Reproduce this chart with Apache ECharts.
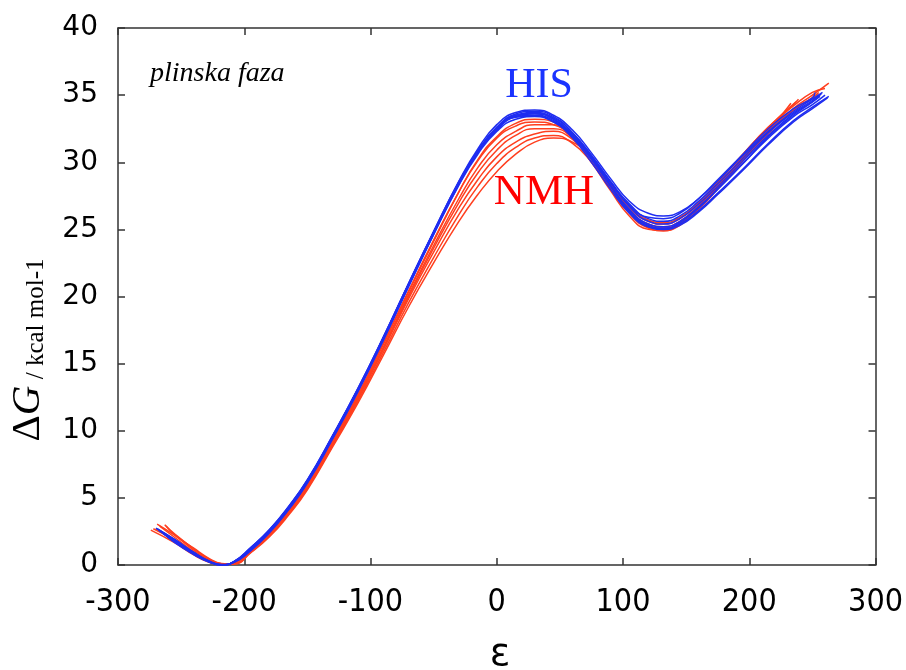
<!DOCTYPE html>
<html>
<head>
<meta charset="utf-8">
<script src="https://cdn.jsdelivr.net/npm/echarts@6/dist/echarts.min.js"></script>
<style>
  html, body { margin: 0; padding: 0; background: #fff; }
  #chart { width: 906px; height: 670px; }
</style>
</head>
<body>
<div id="chart"></div>
<script>
"use strict";
// shared epsilon grid (interior points); each curve adds its own start / end point
const gridEps = [-255, -240, -228, -218, -208, -195, -180, -165, -150, -130, -110, -90, -70, -50, -30, -15,
  0, 15, 30, 45, 60, 75, 90, 105, 120, 132, 145, 160, 175, 195, 215, 235, 250];

const xTicks = [-300, -200, -100, 0, 100, 200, 300];
const yTicks = [0, 5, 10, 15, 20, 25, 30, 35, 40];

// HIS (blue)
const hisStartEps = [-266, -270, -268, -267, -265, -269, -266, -264];
const hisStartG = [2.5, 2.75, 2.6, 2.55, 2.4, 2.7, 2.5, 2.35];
const hisEndEps = [258, 263, 256, 260, 255, 262, 257, 252];
const hisEndG = [35.2, 34.9, 34.9, 35.0, 35.0, 34.8, 35.1, 35.2];
const his1 = [1.75, 0.85, 0.25, 0.0, 0.27, 1.3, 2.65, 4.35, 6.35, 9.65, 13.15, 16.95, 20.95, 24.85, 28.6, 31.0, 32.8, 33.7, 33.9, 33.5, 32.4, 30.7, 28.8, 27.1, 26.2, 26.0, 26.3, 27.3, 28.6, 30.5, 32.3, 33.8, 34.7];
const his2 = [1.9, 0.95, 0.3, 0.0, 0.22, 1.15, 2.5, 4.2, 6.2, 9.5, 13.0, 16.8, 20.8, 24.7, 28.4, 30.8, 32.6, 33.6, 33.8, 33.4, 32.2, 30.4, 28.3, 26.4, 25.3, 25.1, 25.4, 26.4, 27.7, 29.5, 31.4, 33.1, 34.1];
const his3 = [1.85, 0.9, 0.28, 0.02, 0.24, 1.2, 2.55, 4.25, 6.25, 9.55, 13.05, 16.85, 20.85, 24.75, 28.45, 30.85, 32.6, 33.5, 33.7, 33.3, 32.2, 30.5, 28.5, 26.7, 25.6, 25.4, 25.8, 26.9, 28.2, 30.1, 32.0, 33.6, 34.5];
const his4 = [1.8, 0.88, 0.26, 0.0, 0.22, 1.1, 2.45, 4.15, 6.15, 9.45, 12.95, 16.75, 20.75, 24.65, 28.35, 30.7, 32.4, 33.4, 33.6, 33.2, 32.0, 30.3, 28.3, 26.5, 25.4, 25.2, 25.6, 26.7, 28.0, 29.9, 31.8, 33.4, 34.3];
const his5 = [1.7, 0.8, 0.23, 0.0, 0.25, 1.25, 2.6, 4.3, 6.3, 9.6, 13.1, 16.9, 20.9, 24.8, 28.5, 30.8, 32.5, 33.4, 33.5, 33.1, 32.0, 30.4, 28.5, 26.8, 25.8, 25.6, 26.0, 27.1, 28.4, 30.3, 32.2, 33.7, 34.6];
const his6 = [1.87, 0.92, 0.3, 0.03, 0.2, 1.05, 2.4, 4.1, 6.1, 9.4, 12.9, 16.7, 20.7, 24.6, 28.3, 30.6, 32.3, 33.2, 33.4, 33.0, 31.9, 30.2, 28.2, 26.3, 25.2, 25.0, 25.3, 26.3, 27.6, 29.4, 31.3, 33.0, 34.0];
const his7 = [1.77, 0.86, 0.26, 0.0, 0.24, 1.2, 2.57, 4.27, 6.27, 9.57, 13.07, 16.87, 20.87, 24.75, 28.45, 30.75, 32.45, 33.35, 33.45, 33.0, 31.8, 30.0, 28.0, 26.2, 25.2, 25.05, 25.5, 26.6, 28.0, 29.9, 31.9, 33.5, 34.5];
const his8 = [1.67, 0.78, 0.22, 0.0, 0.26, 1.27, 2.62, 4.32, 6.32, 9.62, 13.12, 16.92, 20.92, 24.82, 28.55, 30.85, 32.55, 33.5, 33.65, 33.25, 32.1, 30.5, 28.6, 26.9, 25.9, 25.8, 26.2, 27.3, 28.7, 30.6, 32.5, 34.0, 34.8];

// NMH (red)
const nmhStartEps = [-274, -269, -262, -272, -267, -263, -270];
const nmhStartG = [2.6, 3.05, 2.9, 2.7, 2.9, 3.0, 2.65];
const nmhEndEps = [263, 239, 254, 237, 233, 260, 255];
const nmhEndG = [35.9, 34.7, 35.1, 34.5, 34.4, 35.5, 35.2];
const nmh1 = [1.65, 0.75, 0.2, 0.0, 0.15, 1.05, 2.35, 4.0, 5.95, 9.2, 12.6, 16.4, 20.3, 24.1, 27.8, 30.2, 31.9, 32.9, 33.2, 33.0, 32.0, 30.3, 28.2, 26.3, 25.2, 25.0, 25.5, 26.7, 28.2, 30.3, 32.3, 34.0, 35.0];
const nmh2 = [2.2, 1.1, 0.4, 0.08, 0.12, 1.0, 2.25, 3.9, 5.8, 9.05, 12.45, 16.2, 20.1, 23.8, 27.3, 29.6, 31.3, 32.3, 32.8, 32.8, 31.9, 30.3, 28.2, 26.4, 25.4, 25.2, 25.6, 26.8, 28.3, 30.4, 32.4, 34.3, null];
const nmh3 = [2.25, 1.25, 0.5, 0.12, 0.08, 0.95, 2.2, 3.85, 5.75, 9.0, 12.4, 16.1, 19.95, 23.6, 27.0, 29.2, 30.9, 32.0, 32.5, 32.5, 31.8, 30.2, 28.1, 26.2, 25.1, 24.9, 25.3, 26.5, 28.0, 30.1, 32.1, 33.9, 34.8];
const nmh4 = [1.85, 0.9, 0.3, 0.04, 0.12, 1.0, 2.25, 3.9, 5.8, 9.0, 12.35, 16.0, 19.8, 23.3, 26.6, 28.7, 30.4, 31.5, 32.1, 32.3, 31.7, 30.3, 28.4, 26.6, 25.6, 25.4, 25.8, 27.0, 28.5, 30.6, 32.6, null, null];
const nmh5 = [2.05, 1.0, 0.35, 0.06, 0.1, 0.95, 2.2, 3.8, 5.7, 8.9, 12.2, 15.8, 19.5, 22.9, 26.1, 28.2, 29.9, 31.1, 31.8, 32.0, 31.4, 30.0, 28.1, 26.3, 25.3, 25.1, 25.5, 26.7, 28.2, 30.3, 32.3, null, null];
const nmh6 = [2.3, 1.2, 0.45, 0.1, 0.08, 0.9, 2.1, 3.7, 5.6, 8.8, 12.05, 15.6, 19.2, 22.5, 25.6, 27.6, 29.3, 30.6, 31.5, 31.8, 31.5, 30.3, 28.5, 26.7, 25.7, 25.5, 25.9, 27.0, 28.5, 30.6, 32.6, 34.2, 35.2];
const nmh7 = [1.8, 0.85, 0.25, 0.02, 0.18, 1.1, 2.4, 4.05, 6.0, 9.3, 12.7, 16.5, 20.4, 24.2, 27.8, 30.1, 31.8, 32.7, 33.0, 32.8, 31.8, 30.0, 27.9, 26.0, 25.0, 24.9, 25.4, 26.6, 28.1, 30.2, 32.2, 33.9, 34.8];

const hisCurves = [his1, his2, his3, his4, his5, his6, his7, his8];
const nmhCurves = [nmh1, nmh2, nmh3, nmh4, nmh5, nmh6, nmh7];

const BLUE = '#1f2df0';
const RED = '#ff3f1f';

function buildPoints(startE, startG, vals, endE, endG) {
  const pts = [[startE, startG]];
  gridEps.forEach((e, i) => {
    if (vals[i] != null) pts.push([e, vals[i]]);
  });
  pts.push([endE, endG]);
  return pts;
}

function lineSeries(name, data, color) {
  return {
    name: name,
    type: 'line',
    data: data,
    smooth: 0.5,
    showSymbol: false,
    symbol: 'none',
    lineStyle: { color: color, width: 1.5 },
    silent: true
  };
}

const series = [];
nmhCurves.forEach((c, i) => {
  series.push(lineSeries('NMH', buildPoints(nmhStartEps[i], nmhStartG[i], c, nmhEndEps[i], nmhEndG[i]), RED));
});
hisCurves.forEach((c, i) => {
  series.push(lineSeries('HIS', buildPoints(hisStartEps[i], hisStartG[i], c, hisEndEps[i], hisEndG[i]), BLUE));
});

const axisLine = { show: true, onZero: false, lineStyle: { color: '#333', width: 1.5 } };
const axisTick = { show: true, inside: true, length: 7, lineStyle: { color: '#333', width: 1.5 } };

const chart = echarts.init(document.getElementById('chart'), null, { renderer: 'canvas' });
chart.setOption({
  animation: false,
  backgroundColor: '#fff',
  grid: { left: 118, right: 29, top: 28, bottom: 105 },
  xAxis: [{
    type: 'value', min: xTicks[0], max: xTicks[xTicks.length - 1], interval: 100,
    axisLine: axisLine, axisTick: axisTick, splitLine: { show: false },
    axisLabel: { color: '#000', fontSize: 32, fontFamily: 'DejaVu Sans Condensed, Liberation Sans Narrow, DejaVu Sans', margin: 22 }
  }, {
    type: 'value', position: 'top', min: xTicks[0], max: xTicks[xTicks.length - 1], interval: 100,
    axisLine: axisLine, axisTick: axisTick, splitLine: { show: false }, axisLabel: { show: false }
  }],
  yAxis: [{
    type: 'value', min: yTicks[0], max: yTicks[yTicks.length - 1], interval: 5,
    axisLine: axisLine, axisTick: axisTick, splitLine: { show: false },
    axisLabel: { color: '#000', fontSize: 28, fontFamily: 'DejaVu Sans', margin: 20 }
  }, {
    type: 'value', position: 'right', min: yTicks[0], max: yTicks[yTicks.length - 1], interval: 5,
    axisLine: axisLine, axisTick: axisTick, splitLine: { show: false }, axisLabel: { show: false }
  }],
  series: series,
  graphic: [
    {
      type: 'text', left: 150, top: 60,
      style: { text: 'plinska faza', fill: '#000', font: 'italic 28px "Liberation Serif", "DejaVu Serif", serif' }
    },
    {
      type: 'text', x: 539, y: 86,
      style: { text: 'HIS', fill: '#1a33ff', font: '42px "Liberation Serif", serif', textAlign: 'center', textVerticalAlign: 'middle' }
    },
    {
      type: 'text', x: 544, y: 193,
      style: { text: 'NMH', fill: '#ff0000', font: '43px "Liberation Serif", serif', textAlign: 'center', textVerticalAlign: 'middle' }
    },
    {
      type: 'text', x: 500, y: 655,
      style: { text: 'ε', fill: '#000', font: '38px "DejaVu Sans", sans-serif', textAlign: 'center', textVerticalAlign: 'middle' }
    },
    {
      type: 'text', x: 28, y: 350, rotation: Math.PI / 2,
      style: {
        text: '{d|Δ}{g|G}{u| / kcal mol-1}',
        textAlign: 'center', textVerticalAlign: 'middle',
        rich: {
          d: { fontSize: 41, fontFamily: 'Liberation Serif', fill: '#000' },
          g: { fontSize: 41, fontFamily: 'Liberation Serif', fontStyle: 'italic', fill: '#000' },
          u: { fontSize: 25, fontFamily: 'Liberation Serif', fill: '#000', verticalAlign: 'bottom' }
        }
      }
    }
  ]
});
</script>
</body>
</html>
